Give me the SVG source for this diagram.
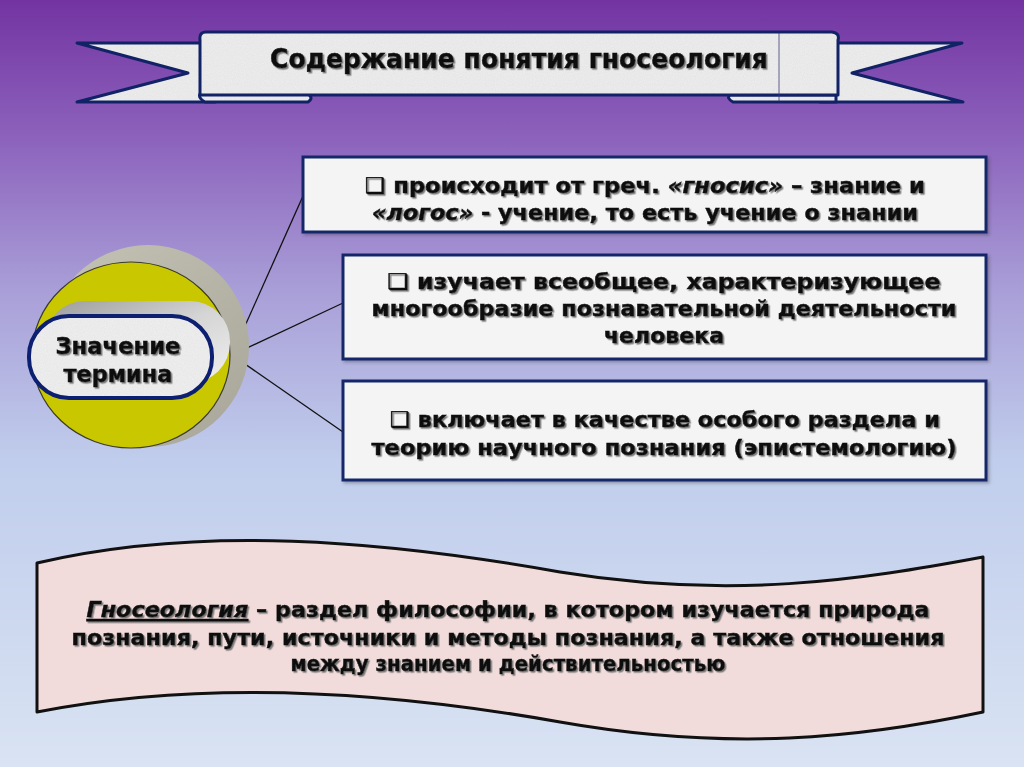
<svg xmlns="http://www.w3.org/2000/svg" width="1024" height="767" viewBox="0 0 1024 767">
<defs>
<linearGradient id="bg" x1="0" y1="0" x2="0" y2="1">
<stop offset="0" stop-color="#7334a2"/>
<stop offset="0.18" stop-color="#8c62bc"/>
<stop offset="0.38" stop-color="#a99fd8"/>
<stop offset="0.6" stop-color="#c0cdec"/>
<stop offset="1" stop-color="#d9e3f3"/>
</linearGradient>
<linearGradient id="grayDisc" x1="0" y1="0" x2="1" y2="1">
<stop offset="0" stop-color="#c4c3b6"/>
<stop offset="1" stop-color="#a7a699"/>
</linearGradient>
<linearGradient id="ext" x1="0" y1="0" x2="1" y2="1">
<stop offset="0" stop-color="#9a9a9a"/>
<stop offset="0.5" stop-color="#d4d4d4"/>
<stop offset="1" stop-color="#f0f0f0"/>
</linearGradient>
<filter id="sh" x="-5%" y="-20%" width="110%" height="140%">
<feDropShadow dx="1.5" dy="1.5" stdDeviation="0.6" flood-color="#6e6e6e" flood-opacity="0.9"/>
</filter>
<filter id="bx" x="-5%" y="-10%" width="110%" height="130%">
<feDropShadow dx="2" dy="2" stdDeviation="1.5" flood-color="#333" flood-opacity="0.35"/>
</filter>
<filter id="tex">
<feTurbulence type="fractalNoise" baseFrequency="0.9" numOctaves="2" seed="3" result="n"/>
<feColorMatrix in="n" type="matrix" values="0 0 0 0 0.55  0 0 0 0 0.55  0 0 0 0 0.55  0 0 0 0.3 0" result="c"/>
<feComposite in="c" in2="SourceGraphic" operator="in" result="t"/>
<feMerge><feMergeNode in="SourceGraphic"/><feMergeNode in="t"/></feMerge>
</filter>
<path id="bL" d="M77,43 L215,43 L215,102 L77,102 L188,73 Z"/>
<path id="bR" d="M820,43 L962,43 L852,73 L963,102 L820,102 Z"/>
<path id="fL" d="M200,94 L308,94 Q314,98 308,102 L205,102 Q198,98 200,94 Z"/>
<path id="fR" d="M730,95 L836,95 L836,102 L733,102 Q726,98 730,95 Z"/>
<path id="bM" d="M206,32 L832,32 Q840,33 838,40 L838,95 L200,95 L200,40 Q199,32 206,32 Z"/>
<style>
.t{font-family:"DejaVu Sans","Liberation Sans",Arial,sans-serif;font-weight:bold;fill:#111;stroke:#111;stroke-width:0.5;text-anchor:middle}
.bf{fill:#efefef;stroke:none}
.bs{fill:none;stroke:#112266;stroke-width:3;stroke-linejoin:round}
.box{fill:#f4f4f4;stroke:#14286a;stroke-width:3}
.con{stroke:#111;stroke-width:1.3;fill:none}
</style>
</defs>
<rect width="1024" height="767" fill="url(#bg)"/>

<g id="title-banner">
<use href="#bL" class="bf" filter="url(#tex)"/><use href="#bL" class="bs"/>
<use href="#bR" class="bf" filter="url(#tex)"/><use href="#bR" class="bs"/>
<use href="#fL" class="bf" filter="url(#tex)"/><use href="#fL" class="bs"/>
<use href="#fR" class="bf" filter="url(#tex)"/><use href="#fR" class="bs"/>
<use href="#bM" class="bf" filter="url(#tex)"/><use href="#bM" class="bs"/>
<line x1="779" y1="33" x2="779" y2="101" stroke="#3a3a7a" stroke-width="0.8"/>
<g filter="url(#sh)">
<text class="t" x="519" y="68" font-size="26" textLength="498" lengthAdjust="spacingAndGlyphs">Содержание понятия гносеология</text>
</g>
</g>

<g id="connectors">
<line class="con" x1="232" y1="355" x2="303" y2="196"/>
<line class="con" x1="232" y1="355" x2="343" y2="303"/>
<line class="con" x1="232" y1="355" x2="343" y2="432"/>
</g>

<g id="node-term">
<circle cx="148" cy="346" r="101" fill="url(#grayDisc)"/>
<ellipse cx="131" cy="355" rx="99" ry="93" fill="#c9c700" stroke="#3b3b2a" stroke-width="1.2"/>
<rect x="45" y="301" width="185" height="82" rx="40" fill="url(#ext)"/>
<rect x="29" y="316" width="183" height="82" rx="40" fill="#f1f1f1" filter="url(#tex)"/>
<rect x="29" y="316" width="183" height="82" rx="40" fill="none" stroke="#0c1f70" stroke-width="4"/>
<g filter="url(#sh)">
<text class="t" x="118" y="354" font-size="23" textLength="125" lengthAdjust="spacingAndGlyphs">Значение</text>
<text class="t" x="118" y="382" font-size="23" textLength="109" lengthAdjust="spacingAndGlyphs">термина</text>
</g>
</g>

<g id="node-box1">
<rect class="box" x="303" y="157" width="683" height="75" filter="url(#bx)"/>
<g filter="url(#sh)">
<text class="t" x="645" y="193" font-size="21.5" textLength="560" lengthAdjust="spacingAndGlyphs">❑ происходит от греч. <tspan font-style="italic">«гносис»</tspan> – знание  и</text>
<text class="t" x="645" y="220" font-size="21.5" textLength="546" lengthAdjust="spacingAndGlyphs"><tspan font-style="italic">«логос»</tspan> - учение, то есть учение о знании</text>
</g>
</g>

<g id="node-box2">
<rect class="box" x="343" y="255" width="643" height="104" filter="url(#bx)"/>
<g filter="url(#sh)">
<text class="t" x="664" y="289" font-size="21.5" textLength="553" lengthAdjust="spacingAndGlyphs">❑  изучает всеобщее, характеризующее</text>
<text class="t" x="664" y="316" font-size="21.5" textLength="585" lengthAdjust="spacingAndGlyphs">многообразие познавательной деятельности</text>
<text class="t" x="664" y="343" font-size="21.5" textLength="120" lengthAdjust="spacingAndGlyphs">человека</text>
</g>
</g>

<g id="node-box3">
<rect class="box" x="343" y="381" width="643" height="99" filter="url(#bx)"/>
<g filter="url(#sh)">
<text class="t" x="665" y="427" font-size="21.5" textLength="550" lengthAdjust="spacingAndGlyphs">❑  включает в качестве особого раздела и</text>
<text class="t" x="664" y="455" font-size="21.5" textLength="585" lengthAdjust="spacingAndGlyphs">теорию научного познания (эпистемологию)</text>
</g>
</g>

<g id="node-definition">
<path d="M37,563 C 200,525 380,540 560,572 C 730,600 860,580 983,557 L 983,712 C 860,738 730,752 560,722 C 380,690 200,680 37,712 Z" fill="#f2dcdb" stroke="#111" stroke-width="3" stroke-linejoin="round"/>
<g filter="url(#sh)">
<text class="t" x="508" y="617" font-size="22" textLength="843" lengthAdjust="spacingAndGlyphs"><tspan font-style="italic" text-decoration="underline">Гносеология</tspan> – раздел философии, в котором изучается природа</text>
<text class="t" x="508" y="645" font-size="22" textLength="873" lengthAdjust="spacingAndGlyphs">познания, пути, источники и методы познания, а также отношения</text>
<text class="t" x="508" y="671" font-size="22" textLength="435" lengthAdjust="spacingAndGlyphs">между знанием и действительностью</text>
</g>
</g>
</svg>
